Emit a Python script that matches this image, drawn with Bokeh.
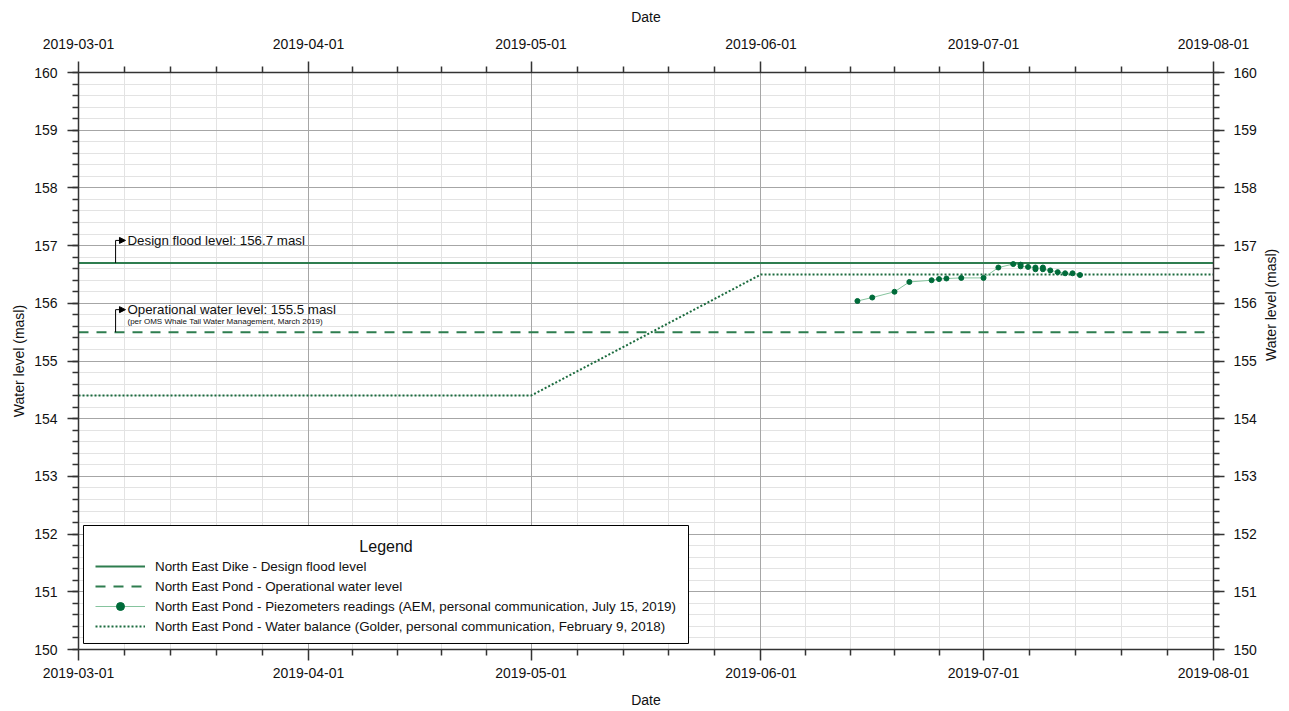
import math
import pandas as pd
from bokeh.plotting import figure
from bokeh.models import (Range1d, LinearAxis, DatetimeAxis, FixedTicker, SingleIntervalTicker,
                          DatetimeTickFormatter, Legend, LegendItem, Arrow, NormalHead, Label, Grid,
                          BoxAnnotation)
from bokeh.embed import file_html
from bokeh.resources import INLINE

# ---------------- data ----------------
x_start, x_end = "2019-03-01", "2019-08-01"
month_ticks = ["2019-03-01", "2019-04-01", "2019-05-01", "2019-06-01", "2019-07-01", "2019-08-01"]
y_min, y_max = 150, 160

design_level = 156.7
operational_level = 155.5

balance_dates = ["2019-03-01", "2019-05-01", "2019-06-01", "2019-08-01"]
balance_levels = [154.4, 154.4, 156.5, 156.5]

piezo_dates = ["2019-06-14", "2019-06-16", "2019-06-19", "2019-06-21", "2019-06-24", "2019-06-25",
               "2019-06-26", "2019-06-28", "2019-07-01", "2019-07-03", "2019-07-05", "2019-07-06",
               "2019-07-06", "2019-07-07", "2019-07-08", "2019-07-08", "2019-07-09", "2019-07-09",
               "2019-07-10", "2019-07-11", "2019-07-12", "2019-07-13", "2019-07-14"]
piezo_levels = [156.04, 156.10, 156.20, 156.37, 156.40, 156.42,
                156.43, 156.44, 156.44, 156.62, 156.68, 156.67,
                156.64, 156.63, 156.62, 156.59, 156.62, 156.59,
                156.57, 156.54, 156.52, 156.52, 156.49]

legend_title = "Legend"
legend_labels = ["North East Dike - Design flood level",
                 "North East Pond - Operational water level",
                 "North East Pond - Piezometers readings (AEM, personal communication, July 15, 2019)",
                 "North East Pond - Water balance (Golder, personal communication, February 9, 2018)"]

design_text = "Design flood level: 156.7 masl"
oper_text = "Operational water level: 155.5 masl"
oper_subtext = "(per OMS Whale Tail Water Management, March 2019)"
annot_stem_x = "2019-03-06"
annot_head_x = "2019-03-07 08:00"
design_annot_y = 157.09
oper_annot_y = 155.89
oper_sub_y = 155.69
legend_title_x = "2019-04-11 11:00"
legend_title_y = 151.78
legend_box_x = ["2019-03-01 16:10", "2019-05-22 05:30"]
legend_box_y = [150.104, 152.149]

# ---------------- helpers ----------------
def ms(d):
    return pd.Timestamp(d).value / 1e6

FONT = "Liberation Sans"
GREEN = "#2e7d4f"
DARK_GREEN = "#1b6b3e"

p = figure(width=1289, height=711, x_axis_type="datetime", output_backend="svg",
           toolbar_location=None, x_range=Range1d(ms(x_start), ms(x_end)),
           y_range=Range1d(y_min, y_max),
           min_border_left=78, min_border_right=76, min_border_top=72, min_border_bottom=62)
p.outline_line_color = None

bottom_axis = p.below[0]
left_axis = p.left[0]

# tickers
major = [ms(d) for d in month_ticks]
minor = []
for a, b in zip(major[:-1], major[1:]):
    for k in range(1, 5):
        minor.append(a + (b - a) * k / 5)
xticker = FixedTicker(ticks=major, minor_ticks=minor)
yticker = SingleIntervalTicker(interval=1, num_minor_ticks=5)
fmt = DatetimeTickFormatter(days="%Y-%m-%d", months="%Y-%m-%d", years="%Y-%m-%d")

bottom_axis.ticker = xticker
bottom_axis.formatter = fmt
left_axis.ticker = yticker

top_axis = DatetimeAxis(ticker=xticker, formatter=fmt)
right_axis = LinearAxis(ticker=yticker)
p.add_layout(top_axis, "above")
p.add_layout(right_axis, "right")

for ax in [bottom_axis, top_axis]:
    ax.axis_label = "Date"
for ax in [left_axis, right_axis]:
    ax.axis_label = "Water level (masl)"
right_axis.axis_label_orientation = math.pi / 2

for ax in [bottom_axis, top_axis, left_axis, right_axis]:
    ax.axis_line_color = "#333333"
    ax.axis_line_width = 1.5
    ax.major_tick_line_color = "#333333"
    ax.major_tick_line_width = 1.5
    ax.minor_tick_line_color = "#333333"
    ax.minor_tick_line_width = 1.5
    ax.major_tick_out = 11
    ax.major_tick_in = 0
    ax.minor_tick_out = 6
    ax.minor_tick_in = 0
    ax.major_label_text_font = FONT
    ax.major_label_text_font_size = "14px"
    ax.major_label_text_color = "#111111"
    ax.axis_label_text_font = FONT
    ax.axis_label_text_font_size = "14px"
    ax.axis_label_text_font_style = "normal"
    ax.axis_label_text_color = "#111111"

bottom_axis.major_label_standoff = 7
bottom_axis.axis_label_standoff = 11
top_axis.major_label_standoff = 13
top_axis.axis_label_standoff = 11
left_axis.major_label_standoff = 10
left_axis.axis_label_standoff = 4
right_axis.major_label_standoff = 9
right_axis.axis_label_standoff = 11

# grids: minor lines first, major lines on top
p.xgrid.ticker = xticker
p.ygrid.ticker = yticker
for g in [p.xgrid[0], p.ygrid[0]]:
    g.grid_line_color = None
    g.minor_grid_line_color = "#e3e3e3"
    g.minor_grid_line_width = 1
p.add_layout(Grid(dimension=0, ticker=xticker, grid_line_color="#a6a6a6", grid_line_width=1))
p.add_layout(Grid(dimension=1, ticker=yticker, grid_line_color="#a6a6a6", grid_line_width=1))

# legend frame (white box drawn over the grid)
p.add_layout(BoxAnnotation(left=ms(legend_box_x[0]), right=ms(legend_box_x[1]),
                           bottom=legend_box_y[0], top=legend_box_y[1],
                           fill_color="white", fill_alpha=1, line_color="black",
                           line_width=1, line_alpha=1, level="underlay"))

# ---------------- series ----------------
r_design = p.line([ms(x_start), ms(x_end)], [design_level, design_level],
                  line_color=GREEN, line_width=2)
r_oper = p.line([ms(x_start), ms(x_end)], [operational_level, operational_level],
                line_color=GREEN, line_width=2, line_dash="10 8")
r_bal = p.line([ms(d) for d in balance_dates], balance_levels,
               line_color=DARK_GREEN, line_width=2, line_dash="2 2")
px = [ms(d) for d in piezo_dates]
r_pl = p.line(px, piezo_levels, line_color="#86c49e", line_width=1)
r_ps = p.scatter(px, piezo_levels, size=5, marker="circle", fill_color="#006b3a",
                 line_color="#006b3a")

# ---------------- annotations ----------------
for y_line, y_annot in [(design_level, design_annot_y), (operational_level, oper_annot_y)]:
    p.add_layout(Arrow(end=None, x_start=ms(annot_stem_x), y_start=y_line,
                       x_end=ms(annot_stem_x), y_end=y_annot,
                       line_color="black", line_width=1))
    p.add_layout(Arrow(end=NormalHead(size=6, fill_color="black", line_color="black"),
                       x_start=ms(annot_stem_x), y_start=y_annot,
                       x_end=ms(annot_head_x), y_end=y_annot,
                       line_color="black", line_width=1))

p.add_layout(Label(x=ms(annot_head_x), y=design_annot_y, x_offset=2, text=design_text,
                   text_font=FONT, text_font_size="13.3px", text_baseline="middle",
                   text_color="#111111"))
p.add_layout(Label(x=ms(annot_head_x), y=oper_annot_y, x_offset=2, text=oper_text,
                   text_font=FONT, text_font_size="13.3px", text_baseline="middle",
                   text_color="#111111"))
p.add_layout(Label(x=ms(annot_head_x), y=oper_sub_y, x_offset=2, text=oper_subtext,
                   text_font=FONT, text_font_size="8px", text_baseline="middle",
                   text_color="#111111"))

# ---------------- legend ----------------
legend = Legend(items=[LegendItem(label=legend_labels[0], renderers=[r_design]),
                       LegendItem(label=legend_labels[1], renderers=[r_oper]),
                       LegendItem(label=legend_labels[2], renderers=[r_pl, r_ps]),
                       LegendItem(label=legend_labels[3], renderers=[r_bal])],
                location=(17, 13), title=" ")
legend.title_text_font = FONT
legend.title_text_font_size = "16px"
legend.title_standoff = 5
legend.label_text_font = FONT
legend.label_text_font_size = "13.4px"
legend.label_text_color = "#111111"
legend.label_height = 20
legend.glyph_height = 20
legend.glyph_width = 50
legend.label_standoff = 10
legend.spacing = 0
legend.padding = 8
legend.margin = 0
legend.border_line_color = None
legend.background_fill_alpha = 0
p.add_layout(legend)

p.add_layout(Label(x=ms(legend_title_x), y=legend_title_y, text=legend_title,
                   text_font=FONT, text_font_size="16px", text_align="center",
                   text_baseline="middle", text_color="#111111"))

open("out.html", "w").write(file_html(p, INLINE))
